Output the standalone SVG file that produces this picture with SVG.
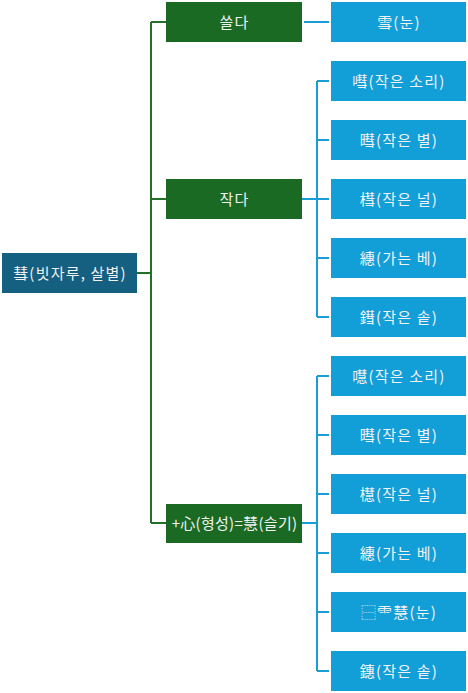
<svg xmlns="http://www.w3.org/2000/svg" width="468" height="693" viewBox="0 0 468 693">
<style>
.root{fill:#155f80}
.mid{fill:#1b6a23}
.leaf{fill:#129fd7}
text{font-family:"Noto Sans CJK KR","Noto Sans CJK SC",sans-serif;font-size:15px;letter-spacing:1.2px;fill:#f2f2f2;text-anchor:middle}
.g{stroke:#23702a;stroke-width:2;fill:none}
.b{stroke:#1a9cd6;stroke-width:2;fill:none}
</style>
<g id="connectors">
<path class="g" d="M137 273H151M151 22V523M151 22H166M151 199H166M151 523H166"/>
<path class="b" d="M304 22H329"/>
<path class="b" d="M302 199H317M317 81V317M317 81H329M317 140H329M317 199H329M317 258H329M317 317H329"/>
<path class="b" d="M302 523H317M317 376V671M317 376H329M317 435H329M317 494H329M317 553H329M317 612H329M317 671H329"/>
</g>
<g id="root"><rect class="root" x="2" y="253" width="135" height="40"/><text x="70" y="279">彗(빗자루, 살별)</text></g>
<g id="n_sseulda"><rect class="mid" x="166" y="2" width="136" height="40"/><text x="234.5" y="28">쓸다</text></g>
<g id="n_jakda"><rect class="mid" x="166" y="179" width="136" height="40"/><text x="234.5" y="205">작다</text></g>
<g id="n_hye"><rect class="mid" x="166" y="504" width="136" height="39"/><text x="234.5" y="529" style="letter-spacing:0.3px">+心(형성)=慧(슬기)</text></g>
<g id="l_snow"><rect class="leaf" x="331" y="2" width="135" height="40"/><text x="399" y="28">雪(눈)</text></g>
<g id="l1"><rect class="leaf" x="331" y="61" width="135" height="40"/><text x="399" y="87">嘒(작은 소리)</text></g>
<g id="l2"><rect class="leaf" x="331" y="120" width="135" height="40"/><text x="399" y="146">暳(작은 별)</text></g>
<g id="l3"><rect class="leaf" x="331" y="179" width="135" height="40"/><text x="399" y="205">槥(작은 널)</text></g>
<g id="l4"><rect class="leaf" x="331" y="238" width="135" height="40"/><text x="399" y="264">繐(가는 베)</text></g>
<g id="l5"><rect class="leaf" x="331" y="297" width="135" height="40"/><text x="399" y="323">鏏(작은 솥)</text></g>
<g id="m1"><rect class="leaf" x="331" y="356" width="135" height="40"/><text x="399" y="382">嚖(작은 소리)</text></g>
<g id="m2"><rect class="leaf" x="331" y="415" width="135" height="40"/><text x="399" y="441">暳(작은 별)</text></g>
<g id="m3"><rect class="leaf" x="331" y="474" width="135" height="40"/><text x="399" y="500">櫘(작은 널)</text></g>
<g id="m4"><rect class="leaf" x="331" y="533" width="135" height="40"/><text x="399" y="559">繐(가는 베)</text></g>
<g id="m5"><rect class="leaf" x="331" y="592" width="135" height="40"/><text x="399" y="618">⿱⻗慧(눈)</text></g>
<g id="m6"><rect class="leaf" x="331" y="651" width="135" height="40"/><text x="399" y="677">鏸(작은 솥)</text></g>
</svg>
